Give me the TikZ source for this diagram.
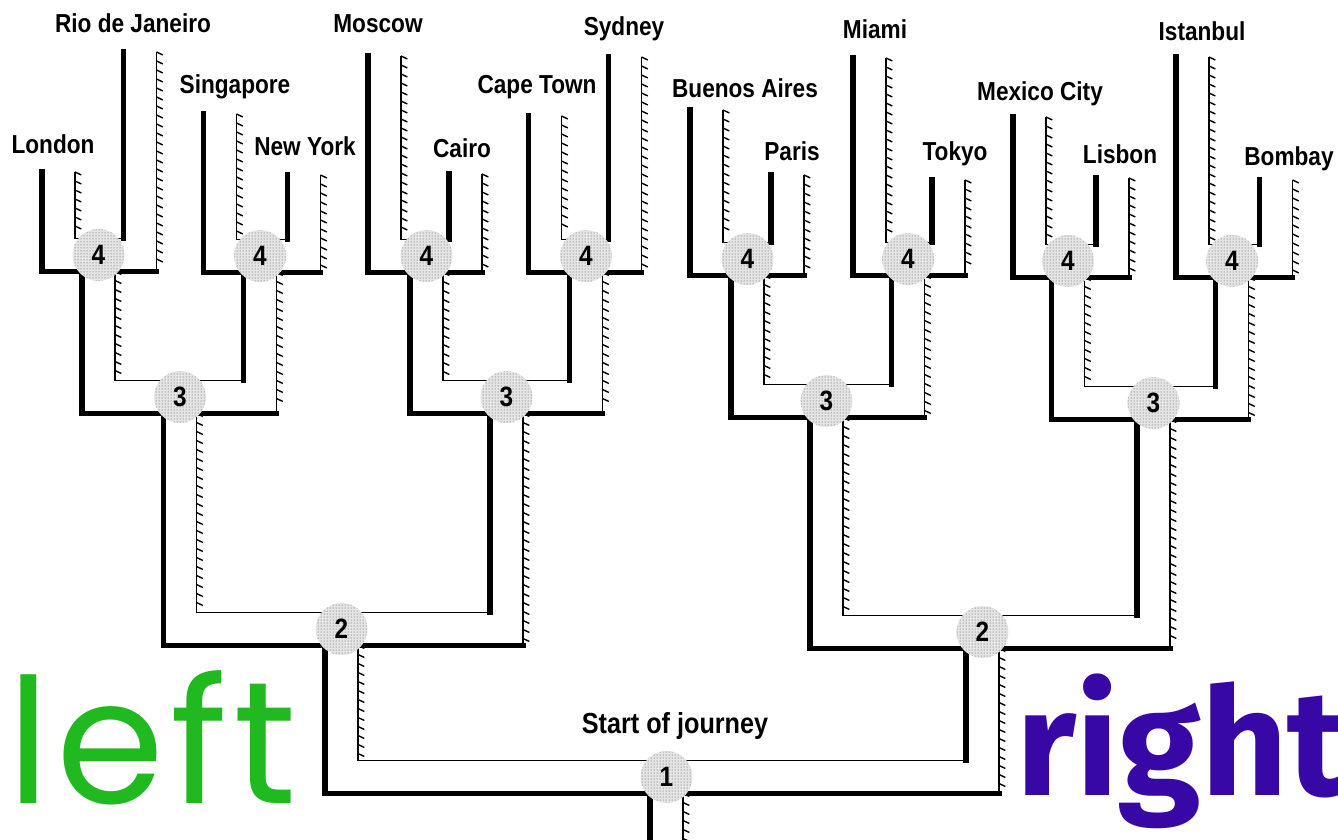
\documentclass[tikz,border=0pt]{standalone}
\usepackage{fontspec}
\usepackage{tikz}
\usetikzlibrary{patterns, decorations.pathreplacing}
\newfontfamily\cityfont[FakeStretch=0.87]{Liberation Sans}
\newfontfamily\leftfont[LetterSpace=3.5]{Poppins}
\newfontfamily\rightfont{Fira Sans}
\definecolor{leftgreen}{RGB}{32, 186, 32}
\definecolor{rightpurple}{RGB}{55, 8, 165}

\begin{document}
\begin{tikzpicture}[
   x=1pt, y=-1pt,
   kerb/.style={draw=black, line width=5.5, line cap=rect},
   rim/.style={draw=black, line width=1.4},
   hatch/.style={draw=black, line width=1.6,
                 postaction={draw=black, line width=1.4, decorate,
                             decoration={border, segment length=9,
                             amplitude=7, angle=65}}},
   junc/.style={circle, fill=black!10, inner sep=0, minimum size=52,
                postaction={pattern=dots, pattern color=black!70},
                font=\cityfont\bfseries\fontsize{28}{28}\selectfont},
   city/.style={anchor=base, inner sep=0,
                font=\cityfont\bfseries\fontsize{26}{26}\selectfont}
  ]

  % Half width of a road
  \pgfmathsetmacro{\hw}{16.5}

  \useasboundingbox (0, 0) rectangle (1338, 839);

  % Trunk below the start
  \draw[kerb] (666.5-\hw, 777+\hw) -- (666.5-\hw, 850);
  \draw[hatch] (666.5+\hw, 777+\hw) -- (666.5+\hw, 850);

  % Forks: centre / level / left branch / right branch / top left / top right
  \foreach \c/\y/\xl/\xr/\tl/\tr in {
      666.5/777/341.5/982.5/645.5/648.5,
      341.5/629/180/506.5/413.5/413.5,
      982.5/632/826.5/1153.5/417.5/419.5,
      180/397/98.5/260/271.5/272.5,
      506.5/397/426.5/586/272.5/272.5,
      826.5/401/747.5/908/275.5/275.5,
      1153.5/403/1068/1232/277.5/277.5,
      98.5/255/58.5/140/172/52,
      260/256/220/304/114/175,
      426.5/256/384.5/465.5/56/174,
      586/256/545/625/116/57,
      747.5/259/706.5/787.5/110/175,
      908/259/869.5/948.5/58/180,
      1068/261/1029.5/1112.5/117/178,
      1232/261/1192.5/1276/57/180} {
    \draw[kerb] (\xl-\hw, \tl) -- (\xl-\hw, \y+\hw) -- (\c-\hw, \y+\hw);
    \draw[kerb] (\c+\hw, \y+\hw) -- (\xr+\hw, \y+\hw);
    \draw[kerb] (\xr-\hw, \tr) -- (\xr-\hw, \y-\hw);
    \draw[rim] (\xl+\hw, \y-\hw) -- (\xr-\hw, \y-\hw);
    \draw[hatch] (\xl+\hw, \tl) -- (\xl+\hw, \y-\hw);
    \draw[hatch] (\xr+\hw, \tr) -- (\xr+\hw, \y+\hw);
  }

  % Junctions
  \foreach \n/\c/\y/\k in {1/666.5/777/1,
      2a/341.5/629/2, 2b/982.5/632/2,
      3a/180/397/3, 3b/506.5/397/3, 3c/826.5/401/3, 3d/1153.5/403/3,
      4a/98.5/255/4, 4b/260/256/4, 4c/426.5/256/4, 4d/586/256/4,
      4e/747.5/259/4, 4f/908/259/4, 4g/1068/261/4, 4h/1232/261/4} {
    \node (J\n) at (\c, \y) [junc] {\k};
  }

  % Cities
  \node (London) at (53, 153) [city] {London};
  \node (Rio) at (133, 32) [city] {Rio de Janeiro};
  \node (Singapore) at (235, 93) [city] {Singapore};
  \node (NewYork) at (305, 155) [city] {New York};
  \node (Moscow) at (378, 32) [city] {Moscow};
  \node (Cairo) at (462, 157) [city] {Cairo};
  \node (CapeTown) at (537, 93) [city] {Cape Town};
  \node (Sydney) at (624, 35) [city] {Sydney};
  \node (BuenosAires) at (745, 97) [city] {Buenos Aires};
  \node (Paris) at (792, 160) [city] {Paris};
  \node (Miami) at (875, 38) [city] {Miami};
  \node (Tokyo) at (955, 160) [city] {Tokyo};
  \node (MexicoCity) at (1040, 100) [city] {Mexico City};
  \node (Lisbon) at (1120, 163) [city] {Lisbon};
  \node (Istanbul) at (1202, 40) [city] {Istanbul};
  \node (Bombay) at (1289, 165) [city] {Bombay};

  \node (Start) at (675, 733) [city, font=\cityfont\bfseries\fontsize{29}{29}\selectfont]
    {Start of journey};

  \node (Left) at (7, 803) [anchor=base west, inner sep=0, text depth=0,
    text=leftgreen, font=\leftfont\fontsize{174}{174}\selectfont] {left};
  \node (Right) at (1016, 795) [anchor=base west, inner sep=0, text depth=0,
    text=rightpurple, font=\rightfont\bfseries\fontsize{150}{150}\selectfont] {right};

\end{tikzpicture}
\end{document}
